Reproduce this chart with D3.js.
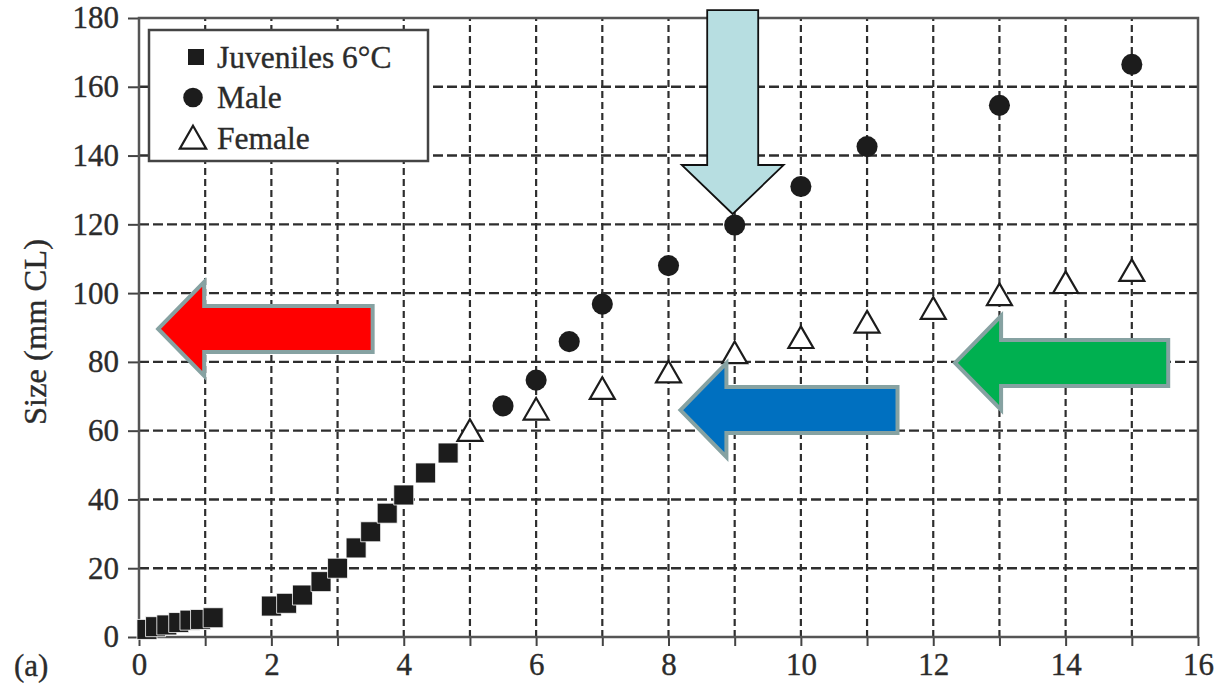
<!DOCTYPE html>
<html>
<head>
<meta charset="utf-8">
<script src="https://cdn.jsdelivr.net/npm/d3@7"></script>
<style>
  html, body { margin: 0; padding: 0; background: #fff; }
  svg { display: block; }
  text { font-family: "Liberation Serif", "DejaVu Serif", serif; fill: #2b2b2b; stroke: #2b2b2b; stroke-width: 0.35px; }
</style>
</head>
<body>
<svg id="chart" width="1227" height="686"></svg>
<script>
// Juvenile growth at 6 °C (age in years vs carapace length)
const juvenileAge  = [0.12, 0.25, 0.42, 0.6, 0.77, 0.93, 1.12, 2.0, 2.23, 2.47, 2.75, 3.0, 3.28, 3.5, 3.75, 4.0, 4.33, 4.67];
const juvenileSize = [2.2, 3.0, 3.5, 4.2, 4.9, 5.1, 5.6, 9.0, 9.8, 12.2, 16.1, 20.0, 25.9, 30.6, 36.0, 41.3, 47.7, 53.5];

// Adult males
const maleAge  = [5.5, 6, 6.5, 7, 8, 9, 10, 11, 13, 15];
const maleSize = [67.2, 74.7, 85.9, 96.8, 108, 119.8, 131, 142.6, 154.6, 166.5];

// Adult females
const femaleAge  = [5, 6, 7, 8, 9, 10, 11, 12, 13, 14, 15];
const femaleSize = [60, 66.2, 72.2, 77, 82.6, 87, 91.5, 95.5, 99.5, 103, 106.5];

// Axis ticks
const xTickLabels = [0, 2, 4, 6, 8, 10, 12, 14, 16];
const yTickLabels = [0, 20, 40, 60, 80, 100, 120, 140, 160, 180];

// Legend entries
const legendLabels = ["Juveniles 6°C", "Male", "Female"];

// Highlight arrows: tip in data units, tail along the arrow's axis in data units
const arrowTipX   = [0.29, 8.18, 12.33, 8.97];
const arrowTipY   = [89.6, 66.0, 79.7, 123.0];
const arrowTail   = [3.53, 11.46, 15.55, 182.3];
const arrowDir    = ["left", "left", "left", "down"];
const arrowFill   = ["#ff0000", "#0070c0", "#00b050", "#b7dee1"];

const svg = d3.select("#chart");
const W = 1227, H = 686;
const margin = { top: 18, right: 29, bottom: 49, left: 139 };
const iw = W - margin.left - margin.right;
const ih = H - margin.top - margin.bottom;

const x = d3.scaleLinear().domain([0, 16]).range([margin.left, margin.left + iw]);
const y = d3.scaleLinear().domain([0, 180]).range([margin.top + ih, margin.top]);

// Dashed grid
const grid = svg.append("g");
grid.selectAll("line.h").data(d3.range(20, 180, 20)).join("line")
  .attr("x1", x(0)).attr("x2", x(16))
  .attr("y1", d => y(d)).attr("y2", d => y(d))
  .attr("stroke", "#2e2e2e").attr("stroke-width", 2.4)
  .attr("stroke-dasharray", "10,4");
grid.selectAll("line.v").data(d3.range(1, 16, 1)).join("line")
  .attr("y1", y(0)).attr("y2", y(180))
  .attr("x1", d => x(d)).attr("x2", d => x(d))
  .attr("stroke", "#2e2e2e").attr("stroke-width", 2.2)
  .attr("stroke-dasharray", "7,4");

// Axes
const xAxis = d3.axisBottom(x).tickValues(d3.range(0, 17, 1)).tickSize(9)
  .tickFormat(d => xTickLabels.includes(d) ? d : "");
const gx = svg.append("g").attr("transform", `translate(0,${y(0)})`).call(xAxis);
gx.select(".domain").remove();
gx.selectAll(".tick line").attr("stroke", "#444").attr("stroke-width", 2);
gx.selectAll(".tick text").attr("font-size", 31).attr("dy", "0.78em").attr("y", 14)
  .style("font-family", "Liberation Serif").attr("fill", "#2b2b2b");

const yAxis = d3.axisLeft(y).tickValues(yTickLabels).tickSize(11).tickPadding(9);
const gy = svg.append("g").attr("transform", `translate(${x(0)},0)`).call(yAxis);
gy.select(".domain").remove();
gy.selectAll(".tick line").attr("stroke", "#444").attr("stroke-width", 2);
gy.selectAll(".tick text").attr("font-size", 31)
  .style("font-family", "Liberation Serif").attr("fill", "#2b2b2b");

// Plot frame
svg.append("rect")
  .attr("x", x(0)).attr("y", y(180))
  .attr("width", x(16) - x(0)).attr("height", y(0) - y(180))
  .attr("fill", "none").attr("stroke", "#555").attr("stroke-width", 2.5);

// Axis title and panel tag
svg.append("text")
  .attr("transform", `translate(35,332) rotate(-90)`)
  .attr("text-anchor", "middle").attr("dominant-baseline", "central")
  .attr("font-size", 32.5).text("Size (mm CL)");
svg.append("text").attr("x", 14).attr("y", 676).attr("font-size", 31).text("(a)");

// Markers
const squarePath = d3.symbol().type(d3.symbolSquare).size(400)();
const circlePath = d3.symbol().type(d3.symbolCircle).size(350)();
const trianglePath = d3.symbol().type(d3.symbolTriangle).size(270)();

svg.append("g").selectAll("path").data(juvenileAge).join("path")
  .attr("d", squarePath)
  .attr("transform", (d, i) => `translate(${x(d)},${y(juvenileSize[i])})`)
  .attr("fill", "#1c1c1c").attr("stroke", "#fff").attr("stroke-width", 0.8);

svg.append("g").selectAll("path").data(femaleAge).join("path")
  .attr("d", trianglePath)
  .attr("transform", (d, i) => `translate(${x(d)},${y(femaleSize[i]) + 3})`)
  .attr("fill", "#fff").attr("stroke", "#1c1c1c").attr("stroke-width", 2.2);

svg.append("g").selectAll("path").data(maleAge).join("path")
  .attr("d", circlePath)
  .attr("transform", (d, i) => `translate(${x(d)},${y(maleSize[i])})`)
  .attr("fill", "#1c1c1c");

// Legend
const lg = svg.append("g");
lg.append("rect").attr("x", 149).attr("y", 30).attr("width", 279).attr("height", 131)
  .attr("fill", "#fff").attr("stroke", "#444").attr("stroke-width", 2.5);
const legendShapes = [
  d3.symbol().type(d3.symbolSquare).size(256)(),
  d3.symbol().type(d3.symbolCircle).size(300)(),
  d3.symbol().type(d3.symbolTriangle).size(300)()
];
legendLabels.forEach((lab, i) => {
  const cy = 57 + i * 40.5;
  lg.append("path").attr("d", legendShapes[i])
    .attr("transform", `translate(${i === 0 ? 196 : 193},${cy + (i === 2 ? 3 : 0)})`)
    .attr("fill", i === 2 ? "#fff" : "#1c1c1c")
    .attr("stroke", i === 2 ? "#1c1c1c" : "none").attr("stroke-width", 2.2);
  lg.append("text").attr("x", 217).attr("y", cy).attr("dominant-baseline", "central")
    .attr("font-size", 31.5).text(lab);
});

// Block arrows
function arrowPoints(i) {
  const tx = x(arrowTipX[i]), ty = y(arrowTipY[i]);
  const shaftHalf = 23, headHalf = 47, headLen = 46;
  if (arrowDir[i] === "left") {
    const tail = x(arrowTail[i]);
    return [[tx, ty], [tx + headLen, ty - headHalf], [tx + headLen, ty - shaftHalf],
            [tail, ty - shaftHalf], [tail, ty + shaftHalf], [tx + headLen, ty + shaftHalf],
            [tx + headLen, ty + headHalf]];
  }
  const tail = y(arrowTail[i]);
  const sh = 25.5, hh = 51, hl = 49;
  return [[tx, ty], [tx - hh, ty - hl], [tx - sh, ty - hl], [tx - sh, tail],
          [tx + sh, tail], [tx + sh, ty - hl], [tx + hh, ty - hl]];
}
svg.append("g").selectAll("path").data(arrowDir).join("path")
  .attr("d", (d, i) => d3.line()(arrowPoints(i)) + "Z")
  .attr("fill", (d, i) => arrowFill[i])
  .attr("stroke", d => d === "down" ? "#111" : "#86a2a2")
  .attr("stroke-width", d => d === "down" ? 1.8 : 4)
  .attr("stroke-linejoin", "miter");
</script>
</body>
</html>
